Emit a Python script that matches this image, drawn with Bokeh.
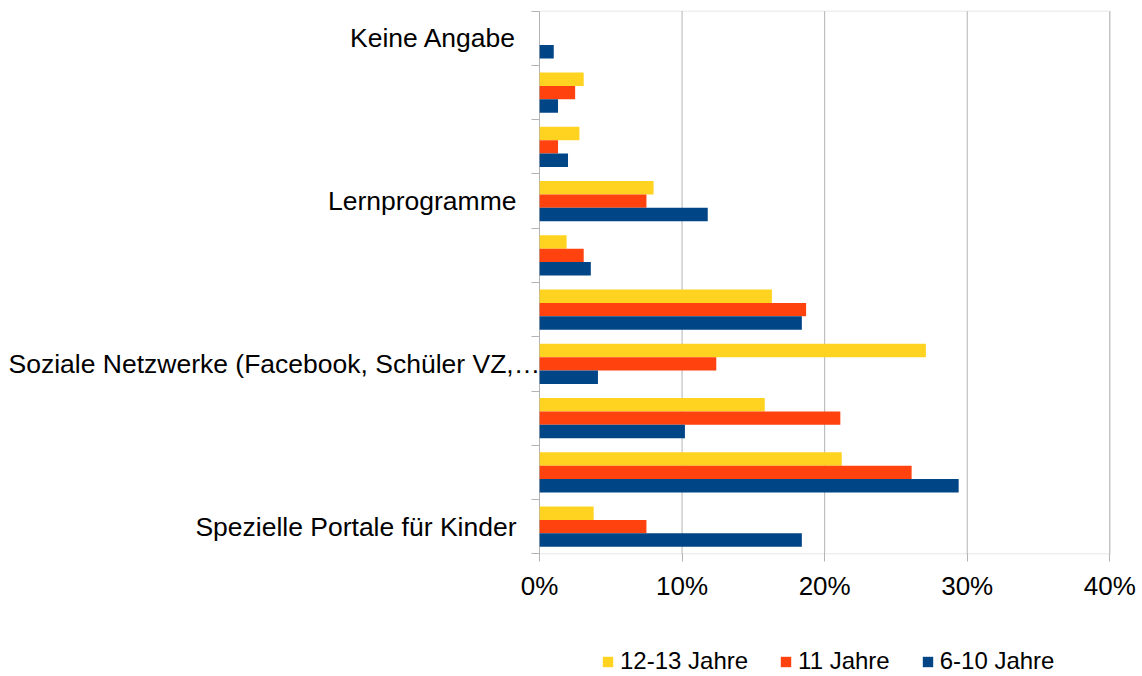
from bokeh.plotting import figure
from bokeh.models import (Range1d, FixedTicker, Legend, LegendItem, LinearAxis,
                          PrintfTickFormatter, ColumnDataSource, BoxAnnotation)
from bokeh.core.properties import value
from bokeh.transform import dodge
from bokeh.embed import file_html
from bokeh.resources import INLINE

# ---- data (bottom to top) ----
categories = ["Spezielle Portale für Kinder", "", "",
              "Soziale Netzwerke (Facebook, Schüler VZ,…", "", "",
              "Lernprogramme", "", "", "Keine Angabe"]
series_names = ["12-13 Jahre", "11 Jahre", "6-10 Jahre"]
vals_12_13 = [3.8, 21.2, 15.8, 27.1, 16.3, 1.9, 8.0, 2.8, 3.1, 0.0]
vals_11 = [7.5, 26.1, 21.1, 12.4, 18.7, 3.1, 7.5, 1.3, 2.5, 0.0]
vals_6_10 = [18.4, 29.4, 10.2, 4.1, 18.4, 3.6, 11.8, 2.0, 1.3, 1.0]
x_ticks = [0, 10, 20, 30, 40]
colors = ["#FFD320", "#FF420E", "#004586"]

FONT = "Liberation Sans"
GRAY = "#b3b3b3"

# ---- layout (pixels) ----
W, H = 1142, 676
PL, PR, PT, PB = 539.0, 1109.3, 10.7, 553.3
n = len(categories)
xmax = x_ticks[-1]
xs = xmax / (PR - PL)
ys = n / (PB - PT)

p = figure(width=W, height=H, output_backend="svg", toolbar_location=None,
           x_range=Range1d(-PL * xs, xmax + (W - PR) * xs),
           y_range=Range1d(-(H - PB) * ys, n + PT * ys),
           x_axis_location=None, y_axis_location=None,
           min_border=0, min_border_left=0, min_border_right=0,
           min_border_top=0, min_border_bottom=0)
p.background_fill_color = "white"
p.border_fill_color = "white"
p.outline_line_color = None
for g in p.grid:
    g.visible = False

# grid lines inside the plot area
p.segment(x0=x_ticks, x1=x_ticks, y0=[0] * len(x_ticks), y1=[n] * len(x_ticks),
          line_color=GRAY, line_width=1)

src = ColumnDataSource(dict(
    y=[i + 0.5 for i in range(n)],
    a=vals_12_13, b=vals_11, c=vals_6_10))

bh = 0.247
r1 = p.hbar(y=dodge("y", bh, range=p.y_range), left=0, right="a", height=bh,
            source=src, fill_color=colors[0], line_color=None)
r2 = p.hbar(y="y", left=0, right="b", height=bh,
            source=src, fill_color=colors[1], line_color=None)
r3 = p.hbar(y=dodge("y", -bh, range=p.y_range), left=0, right="c", height=bh,
            source=src, fill_color=colors[2], line_color=None)

# plot-area frame
p.add_layout(BoxAnnotation(left=0, right=xmax, bottom=0, top=n,
                           fill_alpha=0, line_color=GRAY, line_width=1,
                           level="overlay"))

# x axis
xa = LinearAxis(fixed_location=0, ticker=FixedTicker(ticks=x_ticks),
                formatter=PrintfTickFormatter(format="%d%%"))
xa.axis_line_color = None
xa.major_tick_line_color = GRAY
xa.major_tick_out = 8
xa.major_tick_in = 0
xa.minor_tick_line_color = None
xa.major_label_text_font = FONT
xa.major_label_text_font_size = "26px"
xa.major_label_text_color = "#000000"
xa.major_label_standoff = 9
p.add_layout(xa, "below")

# y axis: ticks on category boundaries
ya = LinearAxis(fixed_location=0, ticker=FixedTicker(ticks=list(range(n + 1))))
ya.major_label_overrides = {i: "" for i in range(n + 1)}
ya.axis_line_color = None
ya.major_tick_line_color = GRAY
ya.major_tick_out = 8
ya.major_tick_in = 0
ya.minor_tick_line_color = None
p.add_layout(ya, "left")

# category labels
lab_y, lab_t, lab_off, lab_al = [], [], [], []
for i, name in enumerate(categories):
    if not name:
        continue
    lab_y.append(i + 0.5)
    lab_t.append(name)
    if name.endswith("…"):
        lab_off.append(-(PL - 8))
        lab_al.append("left")
    else:
        lab_off.append(-23)
        lab_al.append("right")
lsrc = ColumnDataSource(dict(x=[0] * len(lab_y), y=lab_y, t=lab_t,
                             off=lab_off, al=lab_al))
p.text(x="x", y="y", text="t", x_offset="off", text_align="al",
       text_baseline="middle", source=lsrc, text_font=value(FONT),
       text_font_size="26.5px", text_color="#000000")

legend = Legend(items=[LegendItem(label=series_names[0], renderers=[r1]),
                       LegendItem(label=series_names[1], renderers=[r2]),
                       LegendItem(label=series_names[2], renderers=[r3])],
                orientation="horizontal", location=(601, 1),
                glyph_width=13, glyph_height=13, label_standoff=6, spacing=31,
                padding=0, margin=0, border_line_color=None,
                background_fill_alpha=0, label_text_font=FONT,
                label_text_font_size="24px", label_text_color="#000000")
p.add_layout(legend)

open("out.html", "w").write(file_html(p, INLINE))
